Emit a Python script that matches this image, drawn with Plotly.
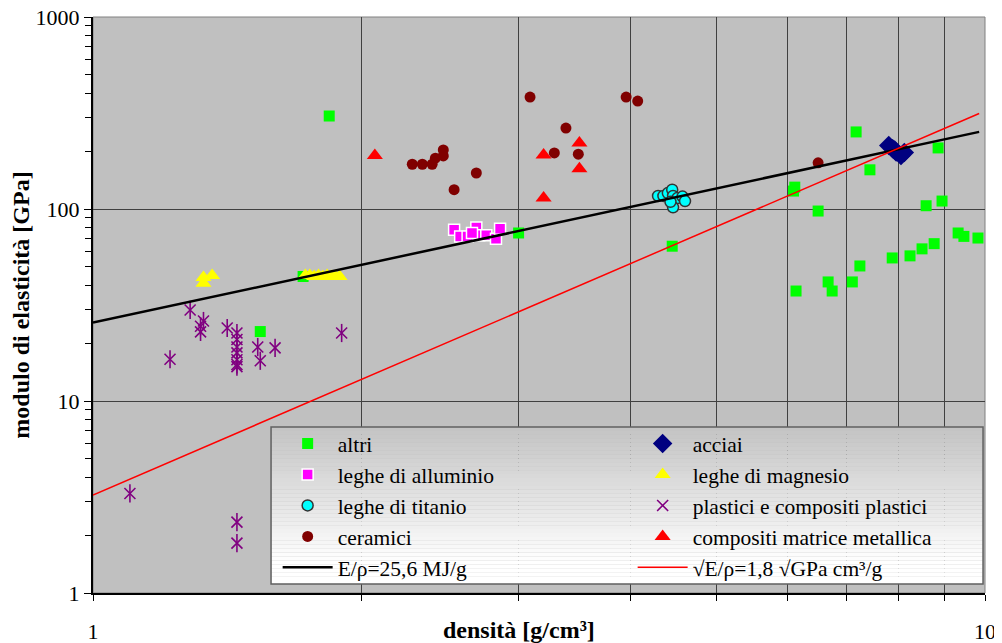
import plotly.graph_objects as go

# ---- data (density g/cm3, Young's modulus GPa) ----
altri_x = [1.54, 1.72, 1.84, 3.0, 4.46, 6.10, 6.12, 6.14, 6.50, 6.67, 6.74, 7.10, 7.17, 7.24, 7.43,
           7.87, 8.24, 8.50, 8.59, 8.77, 8.86, 8.95, 9.33, 9.47, 9.82]
altri_y = [23, 44.5, 305, 75, 64, 124, 130, 37.4, 97.6, 41.7, 37.4, 41.7, 252, 50.5, 160,
           55.6, 57, 62, 104, 66, 208, 110, 75, 72, 70.6]

acciai_x = [7.80, 7.88, 7.95, 8.05, 8.12, 7.92]
acciai_y = [214, 206, 198, 190, 197, 203]

all_x = [2.54, 2.58, 2.63, 2.69, 2.71, 2.76, 2.83, 2.86, 2.66]
all_y = [78, 72, 72, 80, 73, 73, 70, 79, 75]

mg_x = [1.33, 1.33, 1.36, 1.73, 1.75, 1.77, 1.79, 1.81, 1.83, 1.85, 1.87, 1.89]
mg_y = [41, 44, 45, 45, 45, 44.5, 45, 44.5, 45, 44.5, 44.5, 44.5]

ti_x = [4.30, 4.36, 4.41, 4.46, 4.47, 4.52, 4.58, 4.61, 4.47, 4.44]
ti_y = [117, 117, 121, 126, 117, 114, 116, 110, 102, 109]

pl_x = [1.10, 1.22, 1.285, 1.33, 1.32, 1.32, 1.414, 1.45, 1.45, 1.45, 1.45, 1.45, 1.45, 1.45,
        1.53, 1.54, 1.60, 1.90, 1.45, 1.45]
pl_y = [3.3, 16.5, 29.8, 26.1, 22.9, 24.5, 24, 22.6, 20.9, 19.1, 17.8, 16.4, 15.5, 15.1,
        19.1, 16.2, 18.9, 22.6, 2.34, 1.82]

cer_x = [3.09, 3.96, 4.08, 3.39, 3.29, 3.50, 2.28, 2.34, 2.40, 2.42, 2.47, 2.47, 2.69, 2.54, 6.50]
cer_y = [383, 383, 365, 264, 196, 193, 171, 171, 171, 184, 203, 189, 154, 126, 174]

mmc_x = [2.07, 3.51, 3.20, 3.51, 3.20]
mmc_y = [190, 221, 191, 162, 114]

# reference lines (end points)
line_e_x = [1.0, 9.85]
line_e_y = [25.6, 252.2]
line_s_x = [1.0, 9.85]
line_s_y = [3.24, 314.3]

FONT = "Liberation Serif, Times New Roman, serif"

fig = go.Figure()

def sc(x, y, name, symbol, color, size, lw=0, lc=None, showlegend=True, group=None):
    fig.add_trace(go.Scatter(
        x=x, y=y, mode="markers", name=name, showlegend=showlegend,
        legendgroup=group or name,
        marker=dict(symbol=symbol, color=color, size=size,
                    line=dict(width=lw, color=lc if lc else color))))

sc(altri_x, altri_y, "altri", "square", "#00FF00", 11)
sc(acciai_x, acciai_y, "acciai", "diamond", "#000080", 15)
sc(all_x, all_y, "leghe di alluminio", "square", "#FF00FF", 11, 1.5, "#FFFFFF")
sc(mg_x, mg_y, "leghe di magnesio", "triangle-up", "#FFFF00", 14)
sc(ti_x, ti_y, "leghe di titanio", "circle", "#00FFFF", 11, 1.5, "#333333")
sc(pl_x, pl_y, "plastici e compositi plastici", "x-thin-open", "#800080", 11, 1.6, "#800080")
sc(pl_x, pl_y, "plastici e compositi plastici", "line-ns-open", "#800080", 13, 1.6, "#800080",
   showlegend=False, group="plastici e compositi plastici")
sc(cer_x, cer_y, "ceramici", "circle", "#800000", 11)
sc(mmc_x, mmc_y, "compositi matrice metallica", "triangle-up", "#FF0000", 14)

fig.add_trace(go.Scatter(x=line_e_x, y=line_e_y, mode="lines", name="E/ρ=25,6 MJ/g",
                         line=dict(color="#000000", width=2.5)))
fig.add_trace(go.Scatter(x=line_s_x, y=line_s_y, mode="lines", name="√E/ρ=1,8 √GPa cm³/g",
                         line=dict(color="#FF0000", width=1.5)))

# legend background with vertical gradient (gray -> white)
x0p, x1p = 0.1996, 0.9978
ytop, ybot = 0.2882, 0.0156
n = 40
shapes = []
for i in range(n):
    ya = ytop - (ytop - ybot) * i / n
    yb = ytop - (ytop - ybot) * (i + 1) / n
    t = min(1.0, i / (n * 0.85))
    v = int(round(0xC4 + (0xFF - 0xC4) * t))
    col = f"rgb({v},{v},{v})"
    shapes.append(dict(type="rect", xref="paper", yref="paper", x0=x0p, x1=x1p, y0=yb, y1=ya,
                       line=dict(width=0), fillcolor=col, layer="above"))
shapes.append(dict(type="rect", xref="paper", yref="paper", x0=x0p, x1=x1p, y0=ybot, y1=ytop,
                   line=dict(width=1.5, color="#606060"), fillcolor="rgba(0,0,0,0)", layer="above"))
# plot frame (top/right)
shapes.append(dict(type="rect", xref="paper", yref="paper", x0=0, x1=1, y0=0, y1=1,
                   line=dict(width=1, color="#808080"), fillcolor="rgba(0,0,0,0)", layer="below"))

# page body has an 8px margin: size the figure so the plot area lands at 93..985 x 17..593
fig.update_layout(
    width=994, height=635,
    margin=dict(l=85, r=17, t=9, b=50, autoexpand=False),
    paper_bgcolor="#FFFFFF",
    plot_bgcolor="#C0C0C0",
    font=dict(family=FONT, color="#000000", size=21),
    shapes=shapes,
    showlegend=True,
    legend=dict(
        orientation="h", x=0.207, y=0.295, xanchor="left", yanchor="top",
        bgcolor="rgba(0,0,0,0)", borderwidth=0,
        itemwidth=50, entrywidth=290, entrywidthmode="pixels",
        font=dict(family=FONT, size=21.5, color="#000000"),
        itemclick=False, traceorder="normal",
    ),
    xaxis=dict(
        type="log", range=[0, 1], automargin=False,
        tickmode="array", tickvals=[1, 10], ticktext=["1", "10"],
        ticks="outside", ticklen=6, tickcolor="#000000",
        ticklabelstandoff=12, ticklabeloverflow="allow",
        tickfont=dict(family=FONT, size=22),
        showgrid=True, gridcolor="#404040", gridwidth=1,
        showline=True, linecolor="#000000", linewidth=2,
        zeroline=False,
        minor=dict(tickmode="array", tickvals=[2, 3, 4, 5, 6, 7, 8, 9], ticks="outside",
                   ticklen=6, tickcolor="#000000", showgrid=True, gridcolor="#404040", gridwidth=1),
    ),
    yaxis=dict(
        type="log", range=[0, 3], automargin=False,
        tickmode="array", tickvals=[1, 10, 100, 1000], ticktext=["1", "10", "100", "1000"],
        ticks="outside", ticklen=7, tickcolor="#000000",
        ticklabeloverflow="allow",
        tickfont=dict(family=FONT, size=22),
        showgrid=True, gridcolor="#404040", gridwidth=1,
        showline=True, linecolor="#000000", linewidth=2,
        zeroline=False,
        title=dict(text="<b>modulo di elasticità [GPa]</b>", font=dict(family=FONT, size=24), standoff=10),
        minor=dict(tickmode="array",
                   tickvals=[2, 3, 4, 5, 6, 7, 8, 9, 20, 30, 40, 50, 60, 70, 80, 90,
                             200, 300, 400, 500, 600, 700, 800, 900],
                   ticks="outside", ticklen=6, tickcolor="#000000", showgrid=False),
    ),
    annotations=[dict(text="<b>densità [g/cm³]</b>", xref="paper", yref="paper",
                      x=0.478, y=-0.064, xanchor="center", yanchor="middle", showarrow=False,
                      font=dict(family=FONT, size=24))],
)

fig.write_html("out.html")
